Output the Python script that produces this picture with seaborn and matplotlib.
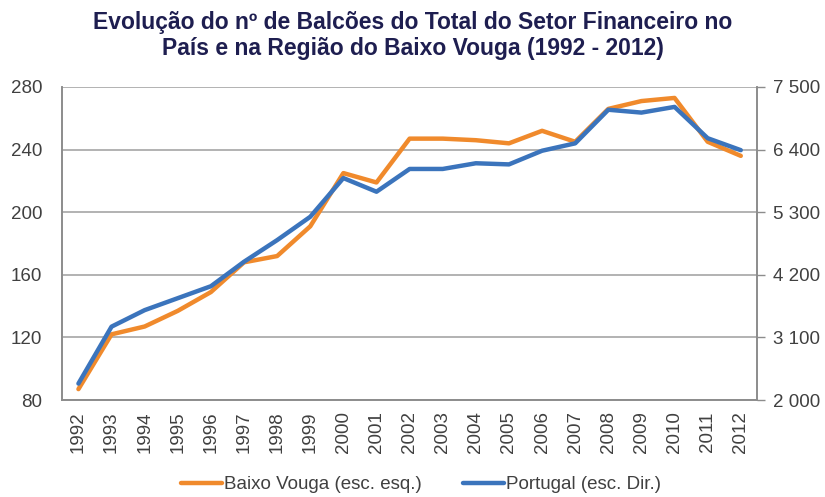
import matplotlib
matplotlib.use("Agg")
import matplotlib.pyplot as plt
import seaborn as sns
import pandas as pd
import numpy as np
from matplotlib.lines import Line2D

# dados
anos = [str(a) for a in range(1992, 2013)]
baixo_vouga = [87, 122, 127, 137, 149, 168, 172, 191, 225, 219, 247, 247, 246, 244, 252, 245, 266, 271, 273, 245, 236]
portugal = [2290, 3290, 3580, 3790, 4000, 4430, 4810, 5220, 5900, 5660, 6060, 6060, 6160, 6140, 6380, 6510, 7100, 7050, 7150, 6600, 6390]

df = pd.DataFrame({"Ano": anos, "pos": range(len(anos)),
                   "Baixo Vouga": baixo_vouga, "Portugal": portugal})

sns.set_theme(style="white")
plt.rcParams["font.family"] = ["Liberation Sans", "DejaVu Sans"]

cor_laranja = "#F08A2C"
cor_azul = "#3B74BC"
cinza = "#8C8C8C"

fig = plt.figure(figsize=(8.25, 4.97), dpi=100)
ax = fig.add_axes([0.075, 0.195, 0.843, 0.63])
ax2 = ax.twinx()

# Baixo Vouga na escala esquerda, Portugal na direita
sns.lineplot(data=df, x="pos", y="Baixo Vouga", ax=ax, color=cor_laranja, linewidth=3.2, zorder=3)
sns.lineplot(data=df, x="pos", y="Portugal", ax=ax2, color=cor_azul, linewidth=3.2, zorder=4)

ax.set_xlim(-0.5, len(anos) - 0.5)
ax.set_ylim(80, 280)
ax.set_yticks([80, 120, 160, 200, 240, 280])
ax2.set_ylim(2000, 7500)
ax2.set_yticks([2000, 3100, 4200, 5300, 6400, 7500])
ax2.set_yticklabels([f"{v:,}".replace(",", " ") for v in [2000, 3100, 4200, 5300, 6400, 7500]])

ax.set_xticks(range(len(anos)))
ax.set_xticklabels(anos, rotation=90)
ax.set_xticks(np.arange(-0.5, len(anos), 1), minor=True)
ax.tick_params(axis="x", which="major", length=0, pad=8)
ax.tick_params(axis="x", which="minor", length=6, color=cinza, width=1, direction="out")

ax.grid(axis="y", color="#A6A6A6", linewidth=1.2)
ax.set_axisbelow(True)
for a in (ax, ax2):
    a.set_xlabel("")
    a.set_ylabel("")
    for s in a.spines.values():
        s.set_color(cinza)
        s.set_linewidth(1.2)
    a.spines["top"].set_visible(False)
ax.tick_params(axis="both", labelsize=13.5, labelcolor="#404040")
ax.tick_params(axis="y", length=0, pad=14)
ax2.tick_params(axis="y", labelsize=13.5, labelcolor="#404040", length=6, color=cinza, direction="out", width=1, pad=5)

fig.suptitle("Evolução do nº de Balcões do Total do Setor Financeiro no\nPaís e na Região do Baixo Vouga (1992 - 2012)",
             x=0.5, y=0.978, fontsize=16.5, fontweight="bold", color="#1E1E50", linespacing=1.15)

handles = [Line2D([], [], color=cor_laranja, linewidth=3.2),
           Line2D([], [], color=cor_azul, linewidth=3.2)]
fig.legend(handles, ["Baixo Vouga (esc. esq.)", "Portugal (esc. Dir.)"],
           loc="center", bbox_to_anchor=(0.51, 0.025), ncol=2, frameon=False,
           fontsize=13.5, handlelength=2.2, handletextpad=0.1, columnspacing=2.2,
           labelcolor="#404040")

plt.savefig("out.png", dpi=100)
plt.close()
